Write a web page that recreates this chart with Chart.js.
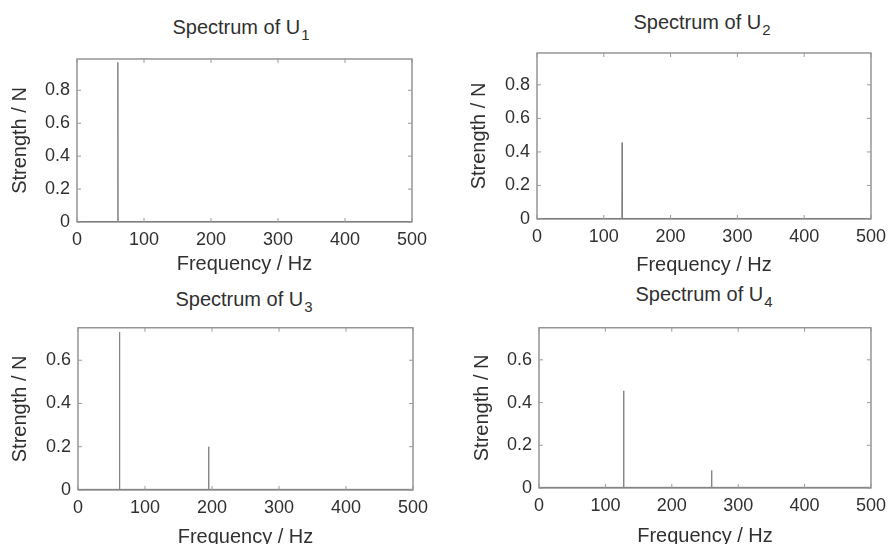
<!DOCTYPE html>
<html>
<head>
<meta charset="utf-8">
<script src="https://cdn.jsdelivr.net/npm/chart.js@4.4.1/dist/chart.umd.min.js"></script>
<style>
  body { margin: 0; background: #fff; width: 893px; height: 544px; overflow: hidden; position: relative; font-family: "Liberation Sans", Arial, sans-serif; color: #303030; }
  .box { position: absolute; }
  .ttl { position: absolute; font-size: 20px; transform: translateX(-50%); white-space: nowrap; line-height: 1; }
  .ttl sub { font-size: 15px; position: relative; top: 6px; vertical-align: baseline; margin-left: 1px; }
</style>
</head>
<body>

<div class="ttl" style="left:241px; top:17px;">Spectrum of U<sub>1</sub></div>
<div class="ttl" style="left:702px; top:12px;">Spectrum of U<sub>2</sub></div>
<div class="ttl" style="left:244px; top:289px;">Spectrum of U<sub>3</sub></div>
<div class="ttl" style="left:704px; top:284px;">Spectrum of U<sub>4</sub></div>

<div class="box" id="b1"><canvas id="c1"></canvas></div>
<div class="box" id="b2"><canvas id="c2"></canvas></div>
<div class="box" id="b3"><canvas id="c3"></canvas></div>
<div class="box" id="b4"><canvas id="c4"></canvas></div>

<script>
// spectrum values
const xTicks = [0, 100, 200, 300, 400, 500];

const u1Freq = [0, 60.7, 61, 61.3, 500];
const u1Strength = [0.003, 0.003, 0.97, 0.003, 0.003];

const u2Freq = [0, 127.2, 127.5, 127.8, 500];
const u2Strength = [0.003, 0.003, 0.455, 0.003, 0.003];

const u3Freq = [0, 61.7, 62, 62.3, 194.7, 195, 195.3, 500];
const u3Strength = [0.003, 0.003, 0.73, 0.003, 0.003, 0.2, 0.003, 0.003];

const u4Freq = [0, 127.2, 127.5, 127.8, 259.7, 260, 260.3, 500];
const u4Strength = [0.003, 0.003, 0.455, 0.003, 0.003, 0.082, 0.003, 0.003];

const yMaxes = [0.99, 0.99, 0.75, 0.75];

// layout: container box + plot area edges (page px)
const panels = [
    { id: 'c1', box: [0, 40, 440, 240],   plot: [77, 59, 412, 222],  yTitleX: 20,  xTitleY: 264 },
    { id: 'c2', box: [440, 35, 453, 245], plot: [537, 53, 872, 219], yTitleX: 479, xTitleY: 265 },
    { id: 'c3', box: [0, 310, 440, 244],  plot: [78, 327, 413, 490], yTitleX: 20,  xTitleY: 537 },
    { id: 'c4', box: [440, 310, 453, 244], plot: [539, 325, 873, 488], yTitleX: 482, xTitleY: 536 }
];

const series = [
    [u1Freq, u1Strength],
    [u2Freq, u2Strength],
    [u3Freq, u3Strength],
    [u4Freq, u4Strength]
];

const frameColor = '#7a7a7a';
const textColor = '#303030';

// MATLAB style box with inward ticks on all sides
const framePlugin = {
    id: 'frame',
    afterDraw(chart) {
        const { ctx, chartArea: a, scales } = chart;
        ctx.save();
        ctx.strokeStyle = frameColor;
        ctx.lineWidth = 1.2;
        ctx.strokeRect(a.left, a.top, a.right - a.left, a.bottom - a.top);
        ctx.lineWidth = 1;
        ctx.strokeStyle = '#9a9a9a';
        const tl = 4;
        scales.x.ticks.forEach(t => {
            const px = scales.x.getPixelForValue(t.value);
            ctx.beginPath();
            ctx.moveTo(px, a.bottom); ctx.lineTo(px, a.bottom - tl);
            ctx.moveTo(px, a.top); ctx.lineTo(px, a.top + tl);
            ctx.stroke();
        });
        scales.y.ticks.forEach(t => {
            const py = scales.y.getPixelForValue(t.value);
            ctx.beginPath();
            ctx.moveTo(a.left, py); ctx.lineTo(a.left + tl, py);
            ctx.moveTo(a.right, py); ctx.lineTo(a.right - tl, py);
            ctx.stroke();
        });
        ctx.restore();
    }
};

function makeChart(p, freq, strength, yMax) {
    const [bx, by, bw, bh] = p.box;
    const [pl, pt, pr, pb] = p.plot;
    const div = document.getElementById('b' + p.id.slice(1));
    div.style.left = bx + 'px';
    div.style.top = by + 'px';
    div.style.width = bw + 'px';
    div.style.height = bh + 'px';

    const yAxisWidth = pl - bx;
    const xAxisHeight = (by + bh) - pb;
    const titleFont = { family: '"Liberation Sans", Arial, sans-serif', size: 20, lineHeight: 1 };
    const tickFont = { family: '"Liberation Sans", Arial, sans-serif', size: 18 };

    new Chart(document.getElementById(p.id), {
        type: 'line',
        data: {
            datasets: [{
                data: freq.map((f, i) => ({ x: f, y: strength[i] })),
                borderColor: '#808080',
                borderWidth: 1,
                pointRadius: 0,
                tension: 0,
                fill: false
            }]
        },
        options: {
            responsive: true,
            maintainAspectRatio: false,
            animation: false,
            layout: { padding: { top: pt - by, right: (bx + bw) - pr, left: 0, bottom: 0 } },
            plugins: { legend: { display: false }, tooltip: { enabled: false } },
            scales: {
                x: {
                    type: 'linear',
                    min: 0,
                    max: 500,
                    afterBuildTicks: s => { s.ticks = xTicks.map(v => ({ value: v })); },
                    afterFit: s => { s.height = xAxisHeight; },
                    grid: { display: false, drawTicks: false },
                    border: { display: false },
                    ticks: { color: textColor, font: tickFont, padding: 7, maxRotation: 0 },
                    title: {
                        display: true,
                        text: 'Frequency / Hz',
                        color: textColor,
                        font: titleFont,
                        padding: { top: 0, bottom: (by + bh) - p.xTitleY - 10 }
                    }
                },
                y: {
                    min: 0,
                    max: yMax,
                    afterFit: s => { s.width = yAxisWidth; },
                    grid: { display: false, drawTicks: false },
                    border: { display: false },
                    ticks: { stepSize: 0.2, includeBounds: false, color: textColor, font: tickFont, padding: 7 },
                    title: {
                        display: true,
                        text: 'Strength / N',
                        color: textColor,
                        font: titleFont,
                        padding: { top: p.yTitleX - bx - 10, bottom: 0 }
                    }
                }
            }
        },
        plugins: [framePlugin]
    });
}

panels.forEach((p, i) => makeChart(p, series[i][0], series[i][1], yMaxes[i]));
</script>
</body>
</html>
